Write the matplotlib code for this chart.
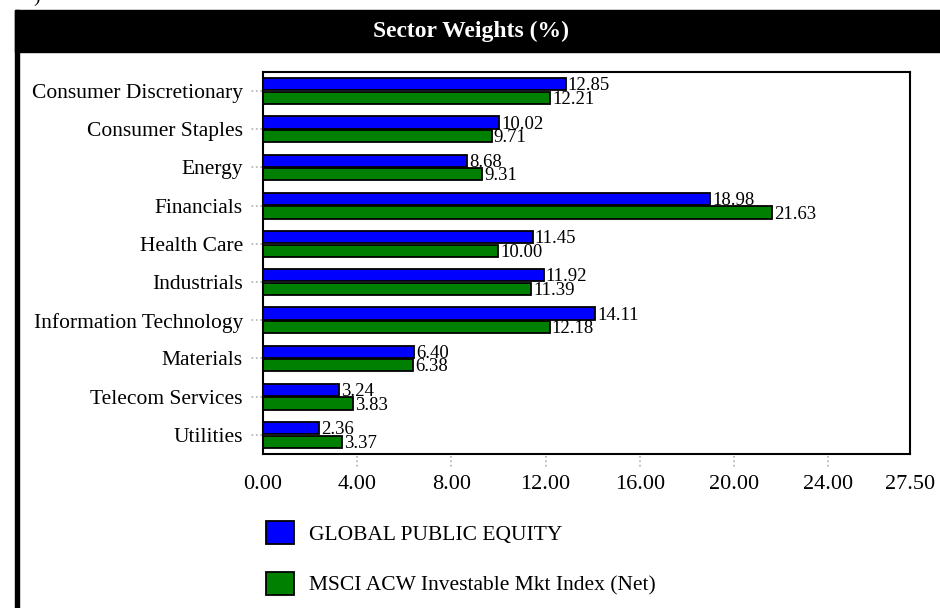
import numpy as np
import matplotlib
matplotlib.use("Agg")
from matplotlib import pyplot as plt
from matplotlib.patches import Rectangle
import matplotlib.transforms as mtransforms

plt.rcParams['font.family'] = ['Liberation Serif', 'DejaVu Serif']

# data
sectors = ['Consumer Discretionary', 'Consumer Staples', 'Energy', 'Financials',
           'Health Care', 'Industrials', 'Information Technology', 'Materials',
           'Telecom Services', 'Utilities']
fund = [12.85, 10.02, 8.68, 18.98, 11.45, 11.92, 14.11, 6.40, 3.24, 2.36]
index = [12.21, 9.71, 9.31, 21.63, 10.00, 11.39, 12.18, 6.38, 3.83, 3.37]
fund_name = 'GLOBAL PUBLIC EQUITY'
index_name = 'MSCI ACW Investable Mkt Index (Net)'
xticks = [0, 4, 8, 12, 16, 20, 24, 27.5]


def main():
    W, H = 940, 608
    fig = plt.figure(figsize=(W / 100, H / 100), dpi=100)

    # black header band and left frame line
    fig.patches.append(Rectangle((15 / W, 1 - 52 / H), 1 - 15 / W, 42 / H,
                                 transform=fig.transFigure, color='black', zorder=0))
    fig.patches.append(Rectangle((15 / W, 0), 4 / W, 1 - 10 / H,
                                 transform=fig.transFigure, color='black', zorder=0))
    fig.text(0.501, 1 - 31 / H, 'Sector Weights (%)', color='white', fontsize=17,
             fontweight='bold', ha='center', va='center')
    fig.text(33 / W, 1 - 2 / H, ')', fontsize=14, ha='left', va='baseline')

    ax = fig.add_axes([263 / W, 1 - 454 / H, (910.5 - 263) / W, (454 - 72) / H])
    y = np.arange(len(sectors))
    h = 0.32
    off = 0.18
    b1 = ax.barh(y - off, fund, height=h, color='#0000ff', edgecolor='black',
                 linewidth=1.3, label=fund_name)
    b2 = ax.barh(y + off, index, height=h, color='#008000', edgecolor='black',
                 linewidth=1.3, label=index_name)

    for vals, pos in ((fund, y - off), (index, y + off)):
        for v, p in zip(vals, pos):
            ax.annotate('%.2f' % v, (v, p + h / 2), xytext=(1.5, 0),
                        textcoords='offset points', fontsize=13.5,
                        ha='left', va='baseline')

    ax.set_xlim(0, 27.5)
    ax.set_ylim(len(sectors) - 0.5, -0.5)
    ax.set_xticks(xticks)
    ax.set_xticklabels(['%.2f' % t for t in xticks], fontsize=16)
    ax.set_yticks(y)
    ax.set_yticklabels(sectors, fontsize=15.5)
    ax.tick_params(axis='x', length=0, pad=15)
    ax.tick_params(axis='y', length=0, pad=14.5)
    for s in ax.spines.values():
        s.set_linewidth(1.5)
        s.set_color('black')

    # dotted tick marks outside the frame
    tx = mtransforms.blended_transform_factory(ax.transData, ax.transAxes)
    ty = mtransforms.blended_transform_factory(ax.transAxes, ax.transData)
    for t in xticks[1:-1]:
        ax.plot([t, t], [-0.006, -0.035], transform=tx, ls=':', lw=1.2,
                color='#b0b0b0', clip_on=False)
    for yy in y:
        ax.plot([-0.002, -0.018], [yy, yy], transform=ty, ls=':', lw=1.2,
                color='#b0b0b0', clip_on=False)

    fig.legend(handles=[b1, b2], loc='upper left',
               bbox_to_anchor=(266 / W, 1 - 521 / H), frameon=False,
               fontsize=15.5, handlelength=1.3, handleheight=1.3,
               handletextpad=0.72, labelspacing=1.25, borderpad=0,
               borderaxespad=0)

    fig.savefig('out.png', dpi=100)


if __name__ == '__main__':
    main()
